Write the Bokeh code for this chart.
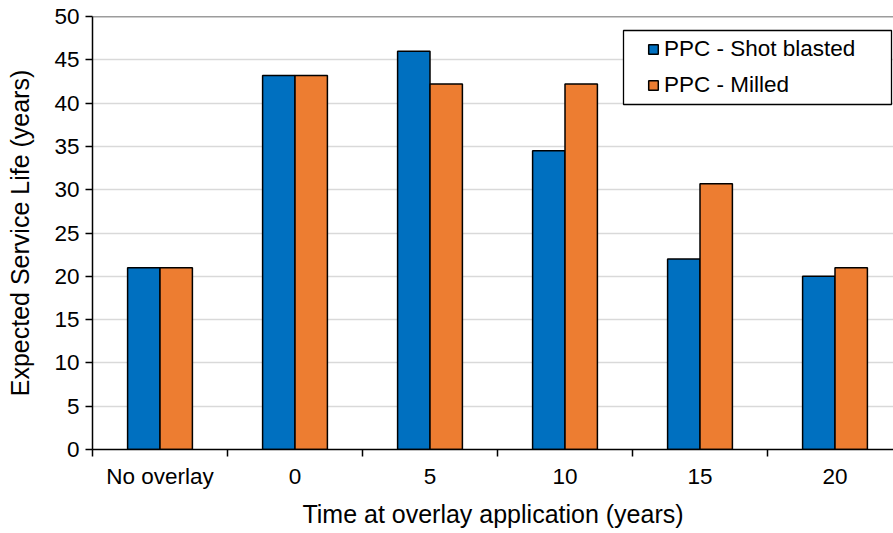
from bokeh.plotting import figure
from bokeh.models import (ColumnDataSource, FixedTicker, Legend, LegendItem, Range1d,
                          Span, BoxAnnotation)
from bokeh.embed import file_html
from bokeh.resources import INLINE

# ---- data ----
categories = ["No overlay", "0", "5", "10", "15", "20"]
shot_blasted = [21.0, 43.2, 46.0, 34.5, 22.0, 20.0]
milled = [21.0, 43.2, 42.2, 42.2, 30.7, 21.0]
y_ticks = [0, 5, 10, 15, 20, 25, 30, 35, 40, 45, 50]

BLUE = "#0070C0"
ORANGE = "#ED7D31"
FONT = "Liberation Sans"

# layout constants (pixels)
FRAME_L, FRAME_T, FRAME_B = 92, 16, 449
W, H = 893, 533
CAT_PX = 135.0
frame_w = W - FRAME_L
frame_h = FRAME_B - FRAME_T
x_end = frame_w / CAT_PX

centers = [i + 0.5 for i in range(len(categories))]
bounds = [float(i) for i in range(len(categories) + 1)]
bar_w = 0.24

src = ColumnDataSource(dict(
    xb=[c - bar_w / 2 for c in centers],
    xo=[c + bar_w / 2 for c in centers],
    blue=shot_blasted, orange=milled))

p = figure(width=W, height=H, output_backend="svg", toolbar_location=None,
           x_range=Range1d(0, x_end), y_range=Range1d(0, 50),
           min_border_left=FRAME_L, min_border_top=FRAME_T,
           min_border_bottom=H - FRAME_B, min_border_right=0,
           frame_width=frame_w, frame_height=frame_h)
p.outline_line_color = None
p.background_fill_color = "white"
p.border_fill_color = "white"

rb = p.vbar(x="xb", top="blue", width=bar_w, source=src, fill_color=BLUE,
            line_color="black", line_width=1.5)
ro = p.vbar(x="xo", top="orange", width=bar_w, source=src, fill_color=ORANGE,
            line_color="black", line_width=1.5)

# grid
p.xgrid.visible = False
p.ygrid.ticker = FixedTicker(ticks=y_ticks)
p.ygrid.grid_line_color = "#d9d9d9"
p.ygrid.grid_line_width = 1.3
p.add_layout(Span(location=50, dimension="width", line_color="#3a3a3a", line_width=1.5))

# y axis
ya = p.yaxis[0]
ya.ticker = FixedTicker(ticks=y_ticks, minor_ticks=[])
ya.axis_label = "Expected Service Life (years)"
ya.axis_label_text_font = FONT
ya.axis_label_text_font_size = "25px"
ya.axis_label_text_font_style = "normal"
ya.axis_label_text_color = "black"
ya.axis_label_standoff = 17
ya.major_label_text_font = FONT
ya.major_label_text_font_size = "22.5px"
ya.major_label_text_color = "black"
ya.major_label_standoff = 6
ya.major_tick_out = 7
ya.major_tick_in = 0
ya.minor_tick_out = 0
ya.minor_tick_in = 0
ya.axis_line_color = "black"
ya.axis_line_width = 1.5
ya.major_tick_line_color = "black"
ya.major_tick_line_width = 1.5

# x axis: labels at centers, tick marks at category boundaries (as minor ticks)
xa = p.xaxis[0]
xa.ticker = FixedTicker(ticks=centers, minor_ticks=bounds)
xa.major_label_overrides = {c: lab for c, lab in zip(centers, categories)}
xa.axis_label = "Time at overlay application (years)"
xa.axis_label_text_font = FONT
xa.axis_label_text_font_size = "25px"
xa.axis_label_text_font_style = "normal"
xa.axis_label_text_color = "black"
xa.axis_label_standoff = 8
xa.major_label_text_font = FONT
xa.major_label_text_font_size = "22.5px"
xa.major_label_text_color = "black"
xa.major_label_standoff = 7
xa.major_tick_out = 0
xa.major_tick_in = 0
xa.minor_tick_out = 7
xa.minor_tick_in = 0
xa.minor_tick_line_color = "black"
xa.minor_tick_line_width = 1.5
xa.axis_line_color = "black"
xa.axis_line_width = 1.5

# legend box (frame drawn separately so padding can differ per side)
def px_x(px):
    return (px - FRAME_L) / CAT_PX

def px_y(py):
    return (FRAME_B - py) * 50.0 / frame_h

box = BoxAnnotation(left=px_x(623), right=px_x(891), top=px_y(30), bottom=px_y(104),
                    fill_color="white", fill_alpha=1.0, line_color="black",
                    line_width=1.3, line_alpha=1.0)
p.add_layout(box)

legend = Legend(items=[LegendItem(label="PPC - Shot blasted", renderers=[rb]),
                       LegendItem(label="PPC - Milled", renderers=[ro])],
                location=(647 - FRAME_L, FRAME_B - 98),
                label_text_font=FONT, label_text_font_size="22.5px",
                label_text_color="black",
                glyph_width=12, glyph_height=12, label_standoff=5,
                label_height=26, spacing=10, padding=0, margin=0,
                border_line_alpha=0, background_fill_alpha=0)
p.add_layout(legend, "center")

open("out.html", "w").write(file_html(p, INLINE))
